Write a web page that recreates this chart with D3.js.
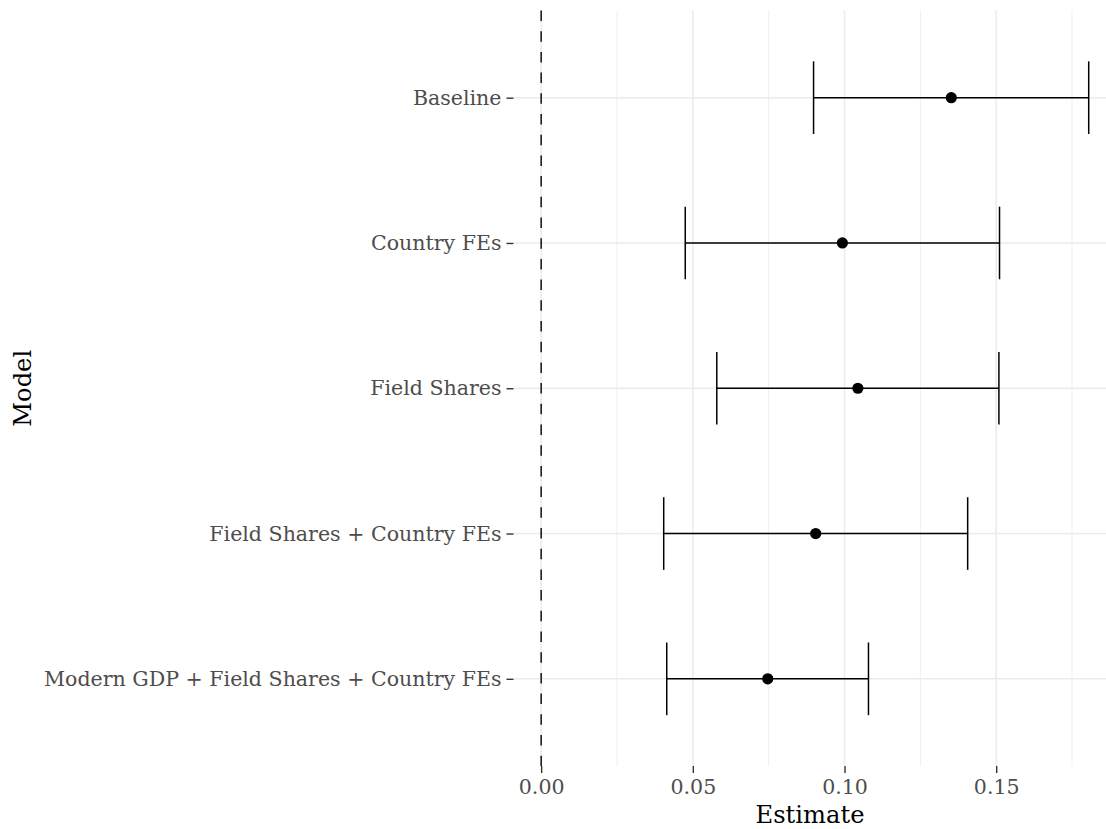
<!DOCTYPE html>
<html>
<head>
<meta charset="utf-8">
<script src="https://cdn.jsdelivr.net/npm/d3@7"></script>
<style>
  html, body { margin: 0; padding: 0; background: #fff; }
  svg { display: block; }
  text { font-family: "DejaVu Serif", "Liberation Serif", serif; }
</style>
</head>
<body>
<svg id="chart" width="1106" height="829"></svg>
<script>
const models = [
  "Baseline",
  "Country FEs",
  "Field Shares",
  "Field Shares + Country FEs",
  "Modern GDP + Field Shares + Country FEs"
];
const estimates = [0.1352, 0.0993, 0.1044, 0.0905, 0.0747];
const lowers    = [0.0898, 0.0475, 0.0579, 0.0404, 0.0414];
const uppers    = [0.1805, 0.1511, 0.1509, 0.1406, 0.1079];
const xTicks = [0, 0.05, 0.10, 0.15];
const xMinorTicks = [0.025, 0.075, 0.125, 0.175];
const xTickLabels = ["0.00", "0.05", "0.10", "0.15"];
const xTitle = "Estimate";
const yTitle = "Model";

const FONT = "DejaVu Serif, Liberation Serif, serif";
const panel = { left: 514, right: 1106, top: 10.5, bottom: 766 };

const svg = d3.select("#chart");

// fit font size so that the longest label width matches the reference (~458px)
const probe = svg.append("text").style("font-family", FONT).style("font-size", "20px")
  .text(models[models.length - 1]);
const probeLen = probe.node().getComputedTextLength();
probe.remove();
const tickFont = Math.min(22, 20 * 458 / probeLen);

const probe2 = svg.append("text").style("font-family", FONT).style("font-size", "24px").text(xTitle);
const titleFont = Math.min(28, 24 * 109 / probe2.node().getComputedTextLength());
probe2.remove();

const x = d3.scaleLinear()
  .domain([-0.00895, 0.1862])
  .range([panel.left, panel.right]);

const y = d3.scalePoint()
  .domain(models)
  .range([panel.top, panel.bottom])
  .padding(0.6);

const g = svg.append("g");

g.selectAll("line.minor").data(xMinorTicks).enter().append("line")
  .attr("x1", d => x(d)).attr("x2", d => x(d))
  .attr("y1", panel.top).attr("y2", panel.bottom)
  .attr("stroke", "#ebebeb").attr("stroke-width", 0.8);

g.selectAll("line.majorx").data(xTicks).enter().append("line")
  .attr("x1", d => x(d)).attr("x2", d => x(d))
  .attr("y1", panel.top).attr("y2", panel.bottom)
  .attr("stroke", "#ebebeb").attr("stroke-width", 1.5);

g.selectAll("line.majory").data(models).enter().append("line")
  .attr("x1", panel.left).attr("x2", panel.right)
  .attr("y1", d => y(d)).attr("y2", d => y(d))
  .attr("stroke", "#ebebeb").attr("stroke-width", 1.5);

g.append("line")
  .attr("x1", x(0)).attr("x2", x(0))
  .attr("y1", panel.top).attr("y2", panel.bottom)
  .attr("stroke", "#000").attr("stroke-width", 1.4)
  .attr("stroke-dasharray", "10.5,10.2");

const data = models.map((m, i) => ({ m, est: estimates[i], lo: lowers[i], hi: uppers[i] }));
const capHalf = y.step() * 0.25;

const eb = g.selectAll("g.eb").data(data).enter().append("g");
eb.append("line")
  .attr("x1", d => x(d.lo)).attr("x2", d => x(d.hi))
  .attr("y1", d => y(d.m)).attr("y2", d => y(d.m))
  .attr("stroke", "#000").attr("stroke-width", 1.5);
eb.append("line")
  .attr("x1", d => x(d.lo)).attr("x2", d => x(d.lo))
  .attr("y1", d => y(d.m) - capHalf).attr("y2", d => y(d.m) + capHalf)
  .attr("stroke", "#000").attr("stroke-width", 1.5);
eb.append("line")
  .attr("x1", d => x(d.hi)).attr("x2", d => x(d.hi))
  .attr("y1", d => y(d.m) - capHalf).attr("y2", d => y(d.m) + capHalf)
  .attr("stroke", "#000").attr("stroke-width", 1.5);
eb.append("circle")
  .attr("cx", d => x(d.est)).attr("cy", d => y(d.m))
  .attr("r", 5.6).attr("fill", "#000");

const xAxis = d3.axisBottom(x)
  .tickValues(xTicks)
  .tickFormat((d, i) => xTickLabels[i])
  .tickSize(7)
  .tickPadding(6);
const xg = svg.append("g").attr("transform", `translate(0,${panel.bottom})`).call(xAxis);
xg.select(".domain").remove();
xg.selectAll(".tick line").attr("stroke", "#333").attr("stroke-width", 1.4);
xg.selectAll(".tick text").attr("fill", "#4d4d4d").style("font-size", tickFont + "px")
  .style("font-family", FONT);

const yAxis = d3.axisLeft(y).tickSize(7).tickPadding(5);
const yg = svg.append("g").attr("transform", `translate(${panel.left - 0.5},0)`).call(yAxis);
yg.select(".domain").remove();
yg.selectAll(".tick line").attr("stroke", "#333").attr("stroke-width", 1.4);
yg.selectAll(".tick text").attr("fill", "#4d4d4d").style("font-size", tickFont + "px")
  .style("font-family", FONT);

svg.append("text")
  .attr("x", (panel.left + panel.right) / 2).attr("y", 823)
  .attr("text-anchor", "middle")
  .style("font-size", titleFont + "px").style("font-family", FONT).attr("fill", "#000")
  .text(xTitle);
svg.append("text")
  .attr("transform", `translate(31,${(panel.top + panel.bottom) / 2}) rotate(-90)`)
  .attr("text-anchor", "middle")
  .style("font-size", titleFont + "px").style("font-family", FONT).attr("fill", "#000")
  .text(yTitle);
</script>
</body>
</html>
